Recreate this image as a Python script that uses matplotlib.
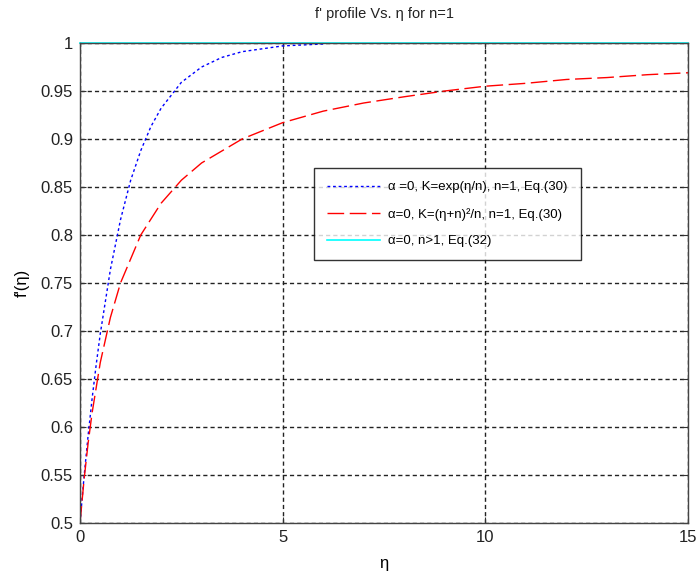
import matplotlib
matplotlib.use("Agg")
import matplotlib.pyplot as plt

plt.rcParams["font.family"] = ["Liberation Sans", "DejaVu Sans"]

# values
eta_exp = [0, 0.1, 0.2, 0.3, 0.4, 0.5, 0.75, 1.0, 1.25, 1.5, 1.75, 2.0,
           2.5, 3.0, 3.5, 4.0, 4.5, 5.0, 5.5, 6.0]
fp_exp = [0.5, 0.548, 0.591, 0.630, 0.665, 0.697, 0.764, 0.816, 0.857,
          0.888, 0.913, 0.932, 0.959, 0.975, 0.985, 0.991, 0.994, 0.997,
          0.998, 0.999]

eta_pow = [0, 0.1, 0.2, 0.3, 0.5, 0.75, 1.0, 1.5, 2.0, 2.5, 3.0, 4.0, 5.0,
           6.0, 7.0, 8.0, 9.0, 10.0, 11.0, 12.0, 13.0, 14.0, 15.0]
fp_pow = [0.5, 0.545, 0.583, 0.615, 0.667, 0.714, 0.75, 0.8, 0.833, 0.857,
          0.875, 0.9, 0.917, 0.929, 0.9375, 0.944, 0.95, 0.955, 0.958, 0.962,
          0.964, 0.967, 0.969]

eta_const = [0, 15]
fp_const = [1.0, 1.0]

labels = [
    "\u03b1 =0, K=exp(\u03b7/n), n=1, Eq.(30)",
    "\u03b1=0, K=(\u03b7+n)\u00b2/n, n=1, Eq.(30)",
    "\u03b1=0, n>1, Eq.(32)",
]

fig = plt.figure(figsize=(6.97, 5.76), dpi=100)
ax = fig.add_axes([0.1148, 0.0925, 0.8723, 0.8328])

ax.plot(eta_exp, fp_exp, color="blue", lw=1, linestyle=(0, (2, 2)), label=labels[0])
ax.plot(eta_pow, fp_pow, color="red", lw=1, linestyle=(0, (12, 4)), label=labels[1])
ax.plot(eta_const, fp_const, color="cyan", lw=1.2, label=labels[2], clip_on=False)

ax.set_xlim(0, 15)
ax.set_ylim(0.5, 1)
ax.set_xticks([0, 5, 10, 15])
ax.set_yticks([0.5, 0.55, 0.6, 0.65, 0.7, 0.75, 0.8, 0.85, 0.9, 0.95, 1])
ax.set_yticklabels(["0.5", "0.55", "0.6", "0.65", "0.7", "0.75", "0.8",
                    "0.85", "0.9", "0.95", "1"])

ax.grid(True, color="#222222", linestyle=(0, (3, 2.2)), lw=1)
ax.tick_params(direction="in", length=4, top=True, right=True, pad=5,
               labelsize=12, colors="#333333", labelcolor="#222222")
for s in ax.spines.values():
    s.set_color("#444444")
    s.set_linewidth(1)

ax.set_title("f' profile Vs. \u03b7 for n=1", fontsize=10.5, pad=18, color="#222222")
ax.set_xlabel("\u03b7", fontsize=12, labelpad=8)
ax.set_ylabel("f'(\u03b7)", fontsize=12, labelpad=8)

leg = ax.legend(loc="upper left", bbox_to_anchor=(0.385, 0.74), fontsize=9.5,
                frameon=True, fancybox=False, handlelength=4.0,
                borderpad=1.0, labelspacing=1.1, handletextpad=0.6,
                borderaxespad=0)
leg.get_frame().set_edgecolor("black")
leg.get_frame().set_linewidth(1)

plt.savefig("out.png", dpi=100)
